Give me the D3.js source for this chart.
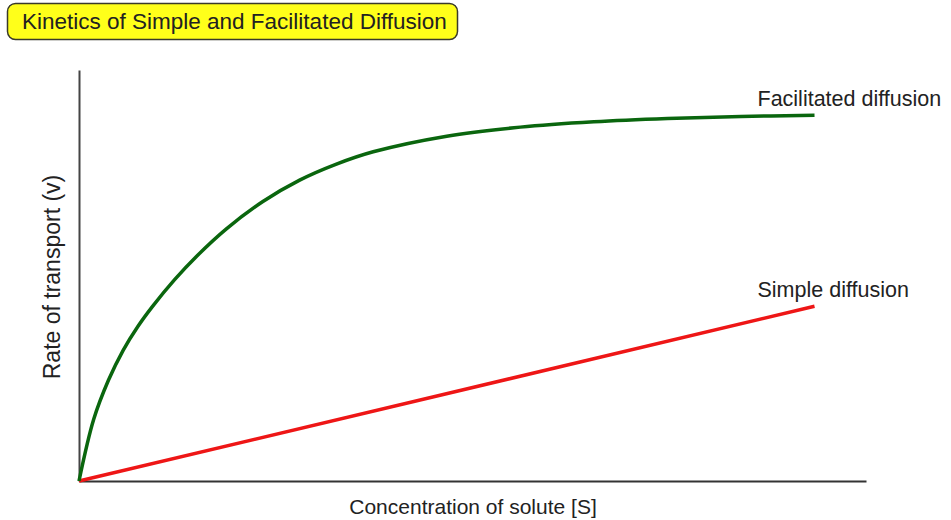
<!DOCTYPE html>
<html>
<head>
<meta charset="utf-8">
<script src="https://cdn.jsdelivr.net/npm/d3@7/dist/d3.min.js"></script>
<style>
  body { margin: 0; background: #fff; }
  text { font-family: "Liberation Sans", Arial, sans-serif; fill: #222; }
</style>
</head>
<body>
<div class="chart"></div>
<script>
// concentration [S] (arbitrary units) and rate of transport (v)
let facConc = [0, 2, 4, 6, 8, 10, 13, 16, 20, 25, 30, 35, 40, 50, 60, 70, 80, 90, 100]
let facRate = [0, 15.0, 24.5, 31.8, 37.6, 42.5, 49.0, 54.7, 61.3, 68.0, 73.2, 77.1, 80.1, 83.9, 86.1, 87.4, 88.2, 88.7, 89.0]
let simpleConc = [0, 100]
let simpleRate = [0, 42.5]

let title = "Kinetics of Simple and Facilitated Diffusion"
let seriesNames = ["Facilitated diffusion", "Simple diffusion"]
let xTitle = "Concentration of solute [S]"
let yTitle = "Rate of transport (v)"

let width = 951
let height = 520

let svg = d3.select(".chart")
  .append("svg")
  .attr("width", width)
  .attr("height", height)

let x = d3.scaleLinear().domain([0, 107]).range([79, 866])
let y = d3.scaleLinear().domain([0, 100]).range([481, 70])

// title box
let tg = svg.append("g")
tg.append("rect")
  .attr("x", 7.5).attr("y", 3.5)
  .attr("width", 450).attr("height", 36)
  .attr("rx", 8)
  .attr("fill", "#ffff1a")
  .attr("stroke", "#3a3a2a")
  .attr("stroke-width", 1.5)
tg.append("text")
  .attr("x", 22).attr("y", 29)
  .attr("font-size", 22.5)
  .text(title)

// axes without ticks
svg.append("g")
  .attr("transform", `translate(0,${y(0)})`)
  .call(d3.axisBottom(x).ticks(0).tickSizeOuter(0))
  .call(g => g.select(".domain").attr("stroke", "#333").attr("stroke-width", 2))
svg.append("g")
  .attr("transform", `translate(${x(0)},0)`)
  .call(d3.axisLeft(y).ticks(0).tickSizeOuter(0))
  .call(g => g.select(".domain").attr("stroke", "#444").attr("stroke-width", 2))

let line = d3.line()
  .x(d => x(d[0]))
  .y(d => y(d[1]))
  .curve(d3.curveCatmullRom.alpha(0.5))

let facData = facConc.map((c, i) => [c, facRate[i]])
let simpleData = simpleConc.map((c, i) => [c, simpleRate[i]])

svg.append("path")
  .datum(simpleData)
  .attr("d", line)
  .attr("fill", "none")
  .attr("stroke", "#ee1616")
  .attr("stroke-width", 3.5)

svg.append("path")
  .datum(facData)
  .attr("d", line)
  .attr("fill", "none")
  .attr("stroke", "#0a660e")
  .attr("stroke-width", 3.5)

// series labels
let ends = [facData[facData.length - 1], simpleData[simpleData.length - 1]]
svg.selectAll(".series-label")
  .data(seriesNames)
  .enter()
  .append("text")
  .attr("class", "series-label")
  .attr("x", (d, i) => x(ends[i][0]) - 57)
  .attr("y", (d, i) => y(ends[i][1]) - 9)
  .attr("font-size", 21.5)
  .text(d => d)

svg.append("text")
  .attr("x", 473).attr("y", 514)
  .attr("text-anchor", "middle")
  .attr("font-size", 21)
  .text(xTitle)

svg.append("text")
  .attr("transform", "translate(60,277) rotate(-90)")
  .attr("text-anchor", "middle")
  .attr("font-size", 23)
  .text(yTitle)
</script>
</body>
</html>
